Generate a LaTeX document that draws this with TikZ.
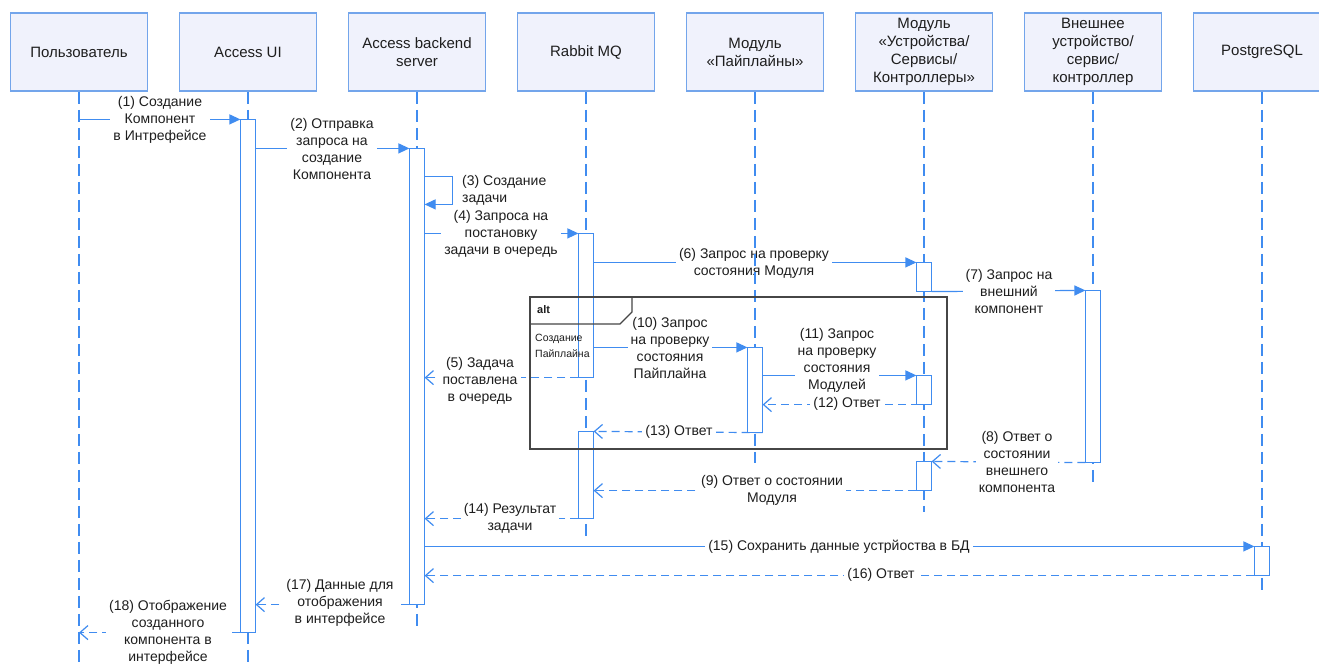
\documentclass[tikz,border=0pt]{standalone}
\usepackage{fontspec}
\setmainfont{Liberation Sans}
\usetikzlibrary{arrows.meta}
\definecolor{lb}{RGB}{64,140,240}
\definecolor{bfill}{RGB}{240,242,252}
\definecolor{bdraw}{RGB}{115,165,235}
\definecolor{tc}{RGB}{30,30,30}
\definecolor{altc}{RGB}{70,70,70}
\tikzset{
 hdr/.style={draw=bdraw, line width=1.6pt, fill=bfill, minimum width=137pt, minimum height=78pt, align=center, font=\fontsize{15}{18}\selectfont, text=tc, inner sep=0pt},
 life/.style={draw=lb, line width=1.4pt, dash pattern=on 12pt off 6pt},
 act/.style={draw=lb, line width=1.2pt, fill=white, minimum width=14pt, inner sep=0pt},
 msg/.style={draw=lb, line width=1.2pt, -{Triangle[length=11pt,width=10pt]}},
 ret/.style={draw=lb, line width=1.2pt, dash pattern=on 8pt off 5pt, -{Straight Barb[length=8pt,width=14pt,line width=1.2pt]}},
 lbl/.style={fill=white, align=center, font=\fontsize{14}{17}\selectfont, text=tc, inner xsep=3pt, inner ysep=0pt},
 altframe/.style={draw=altc, line width=1.2pt},
}
\begin{document}
\begin{tikzpicture}[x=1pt,y=-1pt]
\useasboundingbox (0,0) rectangle (1319,668);
\fill[white] (0,0) rectangle (1319,668);
% headers
\node[hdr] (h1) at (79,52) {Пользователь};
\node[hdr] (h2) at (248,52) {Access UI};
\node[hdr] (h3) at (417,52) {Access backend\\server};
\node[hdr] (h4) at (586,52) {Rabbit MQ};
\node[hdr] (h5) at (755,52) {Модуль\\«Пайплайны»};
\node[hdr] (h6) at (924,52) {Модуль\\«Устройства/\\Сервисы/\\Контроллеры»};
\node[hdr] (h7) at (1093,52) {Внешнее\\устройство/\\сервис/\\контроллер};
\node[hdr] (h8) at (1262,52) {PostgreSQL};
% activation nodes (placed for coordinates; drawn later)
\path
 (248,376) node[act, draw=none, fill=none, minimum height=512pt] (aUI) {}
 (417,376.5) node[act, draw=none, fill=none, minimum height=455pt] (aBE) {}
 (586,305.5) node[act, draw=none, fill=none, minimum height=143pt] (aR1) {}
 (586,475) node[act, draw=none, fill=none, minimum height=86pt] (aR2) {}
 (755,390) node[act, draw=none, fill=none, minimum height=84pt] (aM5) {}
 (924,277) node[act, draw=none, fill=none, minimum height=28pt] (aM6a) {}
 (924,390) node[act, draw=none, fill=none, minimum height=28pt] (aM6b) {}
 (924,476) node[act, draw=none, fill=none, minimum height=28pt] (aM6c) {}
 (1093,376.5) node[act, draw=none, fill=none, minimum height=171pt] (aB7) {}
 (1262,561) node[act, draw=none, fill=none, minimum height=28pt] (aPG) {};
% messages
\draw[msg] (h1.center |- aUI.north) -- (aUI.north west);
\draw[msg] (aUI.east |- aBE.north) -- (aBE.north west);
\draw[msg] ([yshift=-28pt]aBE.north east) -- ++(28,0) -- ++(0,28) -- ([yshift=-56pt]aBE.north east);
\draw[msg] (aBE.east |- aR1.north) -- (aR1.north west);
\draw[ret] (aR1.south west) -- (aBE.east |- aR1.south);
\draw[msg] (aR1.east |- aM6a.north) -- (aM6a.north west);
\draw[msg] (aM6a.south east) -- (aB7.north west);
\draw[ret] (aB7.south west) -- (aM6c.north east);
\draw[ret] (aM6c.south west) -- (aR2.east |- aM6c.south);
\draw[msg] (aR1.east |- aM5.north) -- (aM5.north west);
\draw[msg] (aM5.east |- aM6b.north) -- (aM6b.north west);
\draw[ret] (aM6b.south east) -- (aM5.east |- aM6b.south);
\draw[ret] (aM5.south east) -- (aR2.north east);
\draw[ret] (aR2.south west) -- (aBE.east |- aR2.south);
\draw[msg] (aBE.east |- aPG.north) -- (aPG.north west);
\draw[ret] (aPG.south west) -- (aBE.east |- aPG.south);
\draw[ret] (aBE.south west) -- (aUI.east |- aBE.south);
\draw[ret] (aUI.south west) -- (h1.center |- aUI.south);
% labels
\node[lbl] (l1) at (160,120) {(1) Создание\\Компонент\\в Интрефейсе};
\node[lbl] (l2) at (332,149) {(2) Отправка\\запроса на\\создание\\Компонента};
\node[lbl, anchor=west, align=left, inner xsep=0pt] (l3) at (462,190) {(3) Создание\\задачи};
\node[lbl] (l4) at (501,234) {(4) Запроса на\\постановку\\задачи в очередь};
\node[lbl] (l5) at (480,381) {(5) Задача\\поставлена\\в очередь};
\node[lbl] (l6) at (754,263) {(6) Запрос на проверку\\состояния Модуля};
\node[lbl] (l7) at (1009,291) {(7) Запрос на\\внешний\\компонент};
\node[lbl] (l8) at (1017,462) {(8) Ответ о\\состоянии\\внешнего\\компонента};
\node[lbl] (l9) at (772,490) {(9) Ответ о состоянии\\Модуля};
\node[lbl] (l10) at (670,348) {(10) Запрос\\на проверку\\состояния\\Пайплайна};
\node[lbl] (l11) at (837,360) {(11) Запрос\\на проверку\\состояния\\Модулей};
\node[lbl] (l12) at (847,404) {(12) Ответ};
\node[lbl] (l13) at (679,432) {(13) Ответ};
\node[lbl] (l14) at (510,518) {(14) Результат\\задачи};
\node[lbl] (l15) at (839,547) {(15) Сохранить данные устрйоства в БД};
\node[lbl] (l16) at (881,575) {(16) Ответ};
\node[lbl] (l17) at (340,603) {(17) Данные для\\отображения\\в интерфейсе};
\node[lbl] (l18) at (168,632) {(18) Отображение\\созданного\\компонента в\\интерфейсе};
% lifelines
\draw[life] (h1.south) -- (h1.south |- 0,668);
\draw[life] (h2.south) -- (h2.south |- 0,668);
\draw[life] (h3.south) -- (h3.south |- 0,628);
\draw[life] (h4.south) -- (h4.south |- 0,538);
\draw[life] (h5.south) -- (h5.south |- 0,463);
\draw[life] (h6.south) -- (h6.south |- 0,512);
\draw[life] (h7.south) -- (h7.south |- 0,482);
\draw[life] (h8.south) -- (h8.south |- 0,595);
% activations drawn
\foreach \a in {aUI,aBE,aR1,aR2,aM5,aM6a,aM6b,aM6c,aB7,aPG}
  \draw[draw=lb, line width=1.2pt, fill=white] (\a.north west) rectangle (\a.south east);
% alt frame
\draw[altframe] (530,297) rectangle (947,449);
\draw[altframe] (530,324) -- (620,324) -- (632,312) -- (632,297);
\node[anchor=west, font=\fontsize{11}{13}\selectfont\bfseries, text=tc, inner sep=0pt] (alttag) at (537,310) {alt};
\node[anchor=west, align=left, font=\fontsize{10.5}{16}\selectfont, text=tc, inner sep=0pt] (altcond) at (535,346) {Создание\\Пайплайна};
\end{tikzpicture}
\end{document}
